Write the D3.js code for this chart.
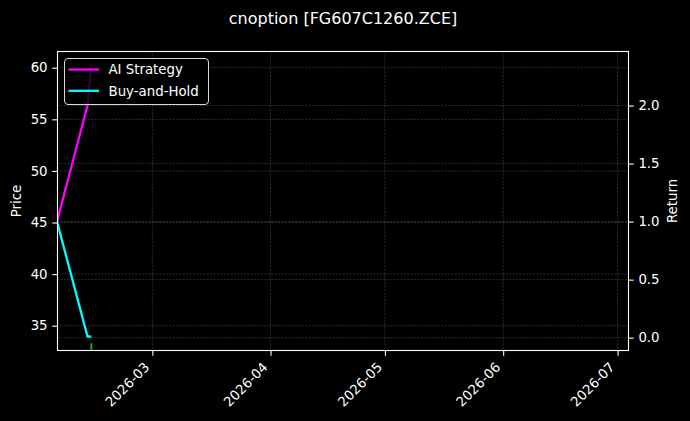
<!DOCTYPE html>
<html>
<head>
<meta charset="utf-8">
<script src="https://cdn.jsdelivr.net/npm/d3@7"></script>
<style>
	body { margin: 0; background: #000; }
	text { font-family: "DejaVu Sans", sans-serif; fill: #fff; }
</style>
</head>
<body>
<div class="chart"></div>
<script>
// data
var dates = ['2026-02-04', '2026-02-12', '2026-02-13'],
	aiReturn = [1.0, 2.0, 2.35],
	bhReturn = [1.0, 0.01, 0.01];

var signalDates = ['2026-02-13'],
	signalPrice = [33.3];

var xDomain = ['2026-02-04', '2026-07-04'],
	priceDomain = [32.55, 61.62],
	returnDomain = [-0.115, 2.47];

var priceTicks = [35, 40, 45, 50, 55, 60],
	returnTicks = [0.0, 0.5, 1.0, 1.5, 2.0],
	dateTicks = ['2026-03-01', '2026-04-01', '2026-05-01', '2026-06-01', '2026-07-01'];

var title = 'cnoption [FG607C1260.ZCE]',
	series = [
		{ name: 'AI Strategy', values: aiReturn, color: '#ff00ff' },
		{ name: 'Buy-and-Hold', values: bhReturn, color: '#00ffff' }
	];

var W = 690, H = 421,
	m = { top: 51, right: 61, bottom: 70, left: 57 },
	w = W - m.left - m.right,
	h = H - m.top - m.bottom,
	fs = 13.33;

var parse = d3.utcParse('%Y-%m-%d');

var x = d3.scaleUtc().domain(xDomain.map(parse)).range([0, w]),
	yP = d3.scaleLinear().domain(priceDomain).range([h, 0]),
	yR = d3.scaleLinear().domain(returnDomain).range([h, 0]);

var svg = d3.select('.chart').append('svg')
	.attr('width', W)
	.attr('height', H)
	.style('background-color', '#000');

svg.append('text')
	.attr('x', m.left + w / 2)
	.attr('y', 24)
	.attr('text-anchor', 'middle')
	.style('font-size', '16px')
	.text(title);

var g = svg.append('g').attr('transform', 'translate(' + [m.left, m.top] + ')');

svg.append('defs').append('clipPath').attr('id', 'clip')
	.append('rect').attr('width', w).attr('height', h);

// grid
var grid = g.append('g')
	.attr('stroke', '#808080')
	.attr('stroke-opacity', 0.55)
	.attr('stroke-width', 0.6)
	.attr('stroke-dasharray', '2.2,1.2');

grid.selectAll('.gp').data(priceTicks).enter().append('line')
	.attr('x1', 0).attr('x2', w)
	.attr('y1', function(d){ return yP(d) }).attr('y2', function(d){ return yP(d) });

grid.selectAll('.gr').data(returnTicks).enter().append('line')
	.attr('x1', 0).attr('x2', w)
	.attr('y1', function(d){ return yR(d) }).attr('y2', function(d){ return yR(d) });

grid.selectAll('.gx').data(dateTicks).enter().append('line')
	.attr('y1', 0).attr('y2', h)
	.attr('x1', function(d){ return x(parse(d)) }).attr('x2', function(d){ return x(parse(d)) });

// lines
var plot = g.append('g').attr('clip-path', 'url(#clip)');

var line = d3.line()
	.x(function(d, i){ return x(parse(dates[i])) })
	.y(function(d){ return yR(d) });

plot.selectAll('.series').data(series).enter().append('path')
	.attr('fill', 'none')
	.attr('stroke', function(d){ return d.color })
	.attr('stroke-width', 2.3)
	.attr('stroke-linejoin', 'round')
	.attr('d', function(d){ return line(d.values) });

plot.selectAll('.sig').data(signalDates).enter().append('line')
	.attr('stroke', '#2ca02c')
	.attr('stroke-width', 2)
	.attr('x1', function(d){ return x(parse(d)) })
	.attr('x2', function(d){ return x(parse(d)) })
	.attr('y1', function(d, i){ return yP(signalPrice[i]) })
	.attr('y2', h + 2);

// axes
function style(ax) {
	ax.select('.domain').remove();
	ax.selectAll('line').attr('stroke', '#fff').attr('stroke-width', 1.1);
	ax.selectAll('text').style('font-size', fs + 'px').attr('fill', '#fff')
		.attr('font-family', 'DejaVu Sans');
}

var axL = g.append('g')
	.call(d3.axisLeft(yP).tickValues(priceTicks).tickSize(4.7).tickPadding(4.7).tickFormat(d3.format('d')));
style(axL);

var axR = g.append('g').attr('transform', 'translate(' + w + ',0)')
	.call(d3.axisRight(yR).tickValues(returnTicks).tickSize(4.7).tickPadding(4.7).tickFormat(d3.format('.1f')));
style(axR);

var axB = g.append('g').attr('transform', 'translate(0,' + h + ')')
	.call(d3.axisBottom(x).tickValues(dateTicks.map(parse)).tickSize(4.7).tickFormat(d3.utcFormat('%Y-%m')));
style(axB);
axB.selectAll('text')
	.attr('y', 0).attr('dy', 0)
	.attr('text-anchor', 'end')
	.attr('transform', 'translate(-2.5,17) rotate(-45)');

// frame
g.append('rect')
	.attr('x', 0.5).attr('y', 0.5)
	.attr('width', w - 1).attr('height', h - 1)
	.attr('fill', 'none')
	.attr('stroke', '#fff')
	.attr('stroke-width', 1.1);

// axis labels
svg.append('text')
	.attr('transform', 'translate(21,' + (m.top + h / 2) + ') rotate(-90)')
	.attr('text-anchor', 'middle')
	.style('font-size', fs + 'px')
	.text('Price');

svg.append('text')
	.attr('transform', 'translate(677,' + (m.top + h / 2) + ') rotate(-90)')
	.attr('text-anchor', 'middle')
	.style('font-size', fs + 'px')
	.text('Return');

// legend
var lg = g.append('g').attr('transform', 'translate(7,7)');
lg.append('rect')
	.attr('x', 0.5).attr('y', 0.5)
	.attr('width', 144).attr('height', 46)
	.attr('rx', 3.5)
	.attr('fill', '#000').attr('fill-opacity', 0.8)
	.attr('stroke', '#d8d8d8').attr('stroke-width', 1);

var item = lg.selectAll('.item').data(series).enter().append('g')
	.attr('transform', function(d, i){ return 'translate(0,' + (11.5 + i * 21.3) + ')' });

item.append('line')
	.attr('x1', 4.5).attr('x2', 35)
	.attr('stroke', function(d){ return d.color })
	.attr('stroke-width', 2.3);

item.append('text')
	.attr('x', 44.5)
	.attr('dy', '0.36em')
	.style('font-size', fs + 'px')
	.text(function(d){ return d.name });
</script>
</body>
</html>
